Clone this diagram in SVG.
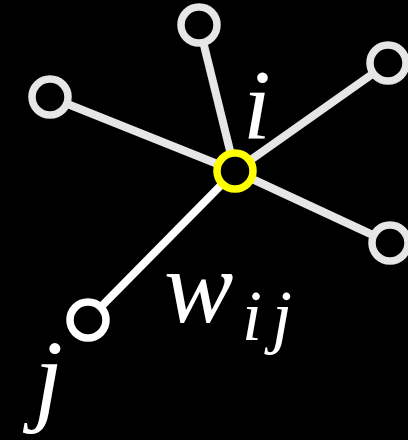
<svg xmlns="http://www.w3.org/2000/svg" width="408" height="440" viewBox="0 0 408 440">
<style>
.edge{stroke:#e6e6e6;stroke-width:8;fill:none}
.edgej{stroke:#ffffff;stroke-width:8;fill:none}
.node{fill:#000;stroke:#e6e6e6;stroke-width:7.5}
.lbl{font-family:"Liberation Serif","Times New Roman",serif;font-style:italic;fill:#fff}
</style>
<rect width="408" height="440" fill="#000"/>
<g id="connectors">
<line class="edge" x1="235" y1="171" x2="199" y2="25"/>
<line class="edge" x1="235" y1="171" x2="388" y2="63"/>
<line class="edge" x1="235" y1="171" x2="50" y2="97"/>
<line class="edge" x1="235" y1="171" x2="390" y2="243"/>
<line class="edgej" x1="235" y1="171" x2="88" y2="320"/>
</g>
<g id="n-top"><circle class="node" cx="199" cy="25" r="18"/></g>
<g id="n-right-top"><circle class="node" cx="388" cy="63" r="18"/></g>
<g id="n-left"><circle class="node" cx="50" cy="97" r="18"/></g>
<g id="n-right-bottom"><circle class="node" cx="390" cy="243" r="18"/></g>
<g id="n-j"><circle class="node" style="stroke:#fff" cx="88" cy="320" r="18"/></g>
<g id="n-i"><circle class="node" style="stroke:#ffff00" cx="235" cy="171" r="18"/></g>
<text class="lbl" x="243" y="138" font-size="100">i</text>
<text class="lbl" x="164" y="322" font-size="104">w</text>
<text class="lbl" x="242" y="340" font-size="72">i</text>
<text class="lbl" x="272" y="340" font-size="72">j</text>
<text class="lbl" x="34" y="412" font-size="104">j</text>
</svg>
